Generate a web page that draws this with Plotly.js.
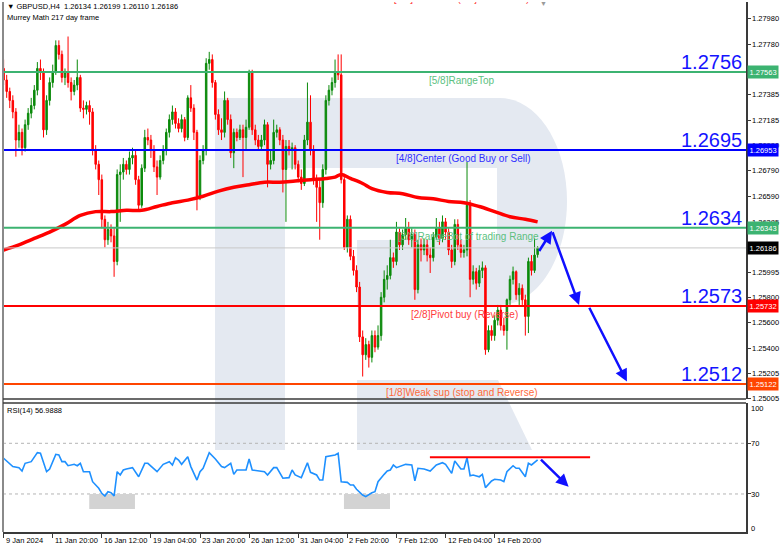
<!DOCTYPE html>
<html><head><meta charset="utf-8">
<script src="https://cdn.plot.ly/plotly-3.0.1.min.js"></script>
<style>html,body{margin:0;padding:0;background:#fff}#chart{width:782px;height:549px}</style>
</head><body><div id="chart"></div>
<script>
// ---------- DATA ----------
const barOpen = [
1.2759,1.2750,1.2741,1.2734,1.2725,1.2703,1.2709,1.2697,1.2715,1.2724,
1.2730,1.2742,1.2759,1.2756,1.2711,1.2734,1.2748,1.2756,1.2777,1.2770,
1.2752,1.2756,1.2748,1.2741,1.2746,1.2752,1.2728,1.2727,1.2730,1.2725,
1.2695,1.2684,1.2672,1.2641,1.2625,1.2633,1.2628,1.2608,1.2676,1.2678,
1.2684,1.2680,1.2689,1.2691,1.2672,1.2652,1.2681,1.2705,1.2703,1.2695,
1.2682,1.2674,1.2687,1.2695,1.2709,1.2719,1.2725,1.2716,1.2712,1.2719,
1.2705,1.2736,1.2728,1.2709,1.2659,1.2687,1.2695,1.2763,1.2766,1.2748,
1.2723,1.2711,1.2709,1.2734,1.2719,1.2693,1.2709,1.2705,1.2711,1.2705,
1.2713,1.2756,1.2711,1.2703,1.2698,1.2703,1.2715,1.2684,1.2687,1.2709,
1.2711,1.2703,1.2680,1.2698,1.2695,1.2697,1.2684,1.2674,1.2669,1.2703,
1.2717,1.2695,1.2672,1.2666,1.2654,1.2680,1.2734,1.2742,1.2748,1.2756,
1.2754,1.2672,1.2619,1.2641,1.2612,1.2601,1.2588,1.2549,1.2535,1.2543,
1.2533,1.2550,1.2541,1.2550,1.2580,1.2594,1.2597,1.2611,1.2608,1.2631,
1.2621,1.2629,1.2634,1.2625,1.2629,1.2586,1.2621,1.2617,1.2621,1.2613,
1.2611,1.2627,1.2634,1.2626,1.2639,1.2631,1.2617,1.2608,1.2637,1.2621,
1.2615,1.2617,1.2652,1.2594,1.2600,1.2591,1.2601,1.2603,1.2539,1.2554,
1.2550,1.2562,1.2570,1.2558,1.2554,1.2578,1.2594,1.2600,1.2582,1.2587,
1.2578,1.2565,1.2608,1.2601,1.26134];
const barHigh = [
1.2766,1.2754,1.2744,1.2738,1.2728,1.2715,1.2712,1.2719,1.2728,1.2736,
1.2746,1.2764,1.2766,1.2759,1.2738,1.2752,1.2762,1.2781,1.2781,1.2773,
1.2759,1.2784,1.2752,1.2750,1.2766,1.2754,1.2734,1.2733,1.2734,1.2728,
1.2699,1.2687,1.2676,1.2644,1.2639,1.2637,1.2634,1.2680,1.2684,1.2689,
1.2687,1.2694,1.2697,1.2695,1.2675,1.2684,1.2711,1.2712,1.2707,1.2699,
1.2687,1.2691,1.2699,1.2712,1.2723,1.2730,1.2728,1.2720,1.2723,1.2721,
1.2738,1.2746,1.2731,1.2711,1.2691,1.2699,1.2767,1.2772,1.2770,1.2750,
1.2727,1.2720,1.2741,1.2736,1.2723,1.2712,1.2712,1.2715,1.2715,1.2719,
1.2758,1.2758,1.2715,1.2707,1.2707,1.2719,1.2717,1.2695,1.2719,1.2715,
1.2713,1.2707,1.2703,1.2703,1.2701,1.2699,1.2687,1.2680,1.2707,1.2748,
1.2738,1.2699,1.2676,1.2672,1.2684,1.2738,1.2746,1.2752,1.2766,1.2770,
1.2770,1.2676,1.2644,1.2644,1.2617,1.2605,1.2592,1.2554,1.2548,1.2546,
1.2554,1.2554,1.2558,1.2584,1.2601,1.2605,1.2625,1.2615,1.2639,1.2634,
1.2633,1.2642,1.2639,1.2634,1.2633,1.2625,1.2626,1.2626,1.2625,1.2619,
1.2631,1.2642,1.2639,1.2644,1.2642,1.2634,1.2621,1.2641,1.2641,1.2625,
1.2621,1.2686,1.2656,1.2605,1.2603,1.2605,1.2608,1.2605,1.2558,1.2558,
1.2566,1.2574,1.2574,1.2564,1.2579,1.2597,1.2604,1.2601,1.2591,1.2590,
1.2582,1.2611,1.2613,1.2626,1.26199];
const barLow = [
1.2746,1.2736,1.2728,1.2720,1.2690,1.2697,1.2691,1.2694,1.2711,1.2720,
1.2727,1.2738,1.2750,1.2705,1.2707,1.2730,1.2744,1.2754,1.2766,1.2748,
1.2746,1.2744,1.2734,1.2738,1.2742,1.2725,1.2720,1.2723,1.2715,1.2691,
1.2680,1.2660,1.2634,1.2619,1.2621,1.2623,1.2596,1.2605,1.2639,1.2672,
1.2676,1.2676,1.2684,1.2668,1.2648,1.2650,1.2678,1.2699,1.2689,1.2678,
1.2660,1.2672,1.2684,1.2691,1.2705,1.2715,1.2712,1.2709,1.2709,1.2702,
1.2703,1.2725,1.2703,1.2648,1.2656,1.2684,1.2691,1.2758,1.2744,1.2719,
1.2707,1.2703,1.2705,1.2715,1.2689,1.2681,1.2702,1.2703,1.2674,1.2695,
1.2711,1.2707,1.2699,1.2695,1.2695,1.2699,1.2666,1.2680,1.2684,1.2705,
1.2699,1.2662,1.2639,1.2691,1.2680,1.2680,1.2670,1.2664,1.2667,1.2699,
1.2691,1.2668,1.2639,1.2625,1.2650,1.2676,1.2730,1.2738,1.2744,1.2750,
1.2669,1.2617,1.2615,1.2609,1.2597,1.2584,1.2545,1.2518,1.2531,1.2525,
1.2529,1.2537,1.2539,1.2546,1.2576,1.2586,1.2594,1.2603,1.2605,1.2617,
1.2617,1.2625,1.2621,1.2619,1.2578,1.2583,1.2608,1.2613,1.2608,1.2599,
1.2608,1.2625,1.2621,1.2623,1.2625,1.2613,1.2603,1.2605,1.2617,1.2611,
1.2611,1.2612,1.2580,1.2590,1.2586,1.2588,1.2595,1.2535,1.2537,1.2546,
1.2546,1.2558,1.2554,1.2550,1.2539,1.2574,1.2590,1.2578,1.2574,1.2574,
1.2550,1.2552,1.2597,1.2599,1.26110];
const barClose = [
1.2750,1.2741,1.2734,1.2725,1.2703,1.2709,1.2697,1.2715,1.2724,1.2730,
1.2742,1.2759,1.2756,1.2711,1.2734,1.2748,1.2756,1.2777,1.2770,1.2752,
1.2756,1.2748,1.2741,1.2746,1.2752,1.2728,1.2727,1.2730,1.2725,1.2695,
1.2684,1.2672,1.2641,1.2625,1.2633,1.2628,1.2608,1.2676,1.2678,1.2684,
1.2680,1.2689,1.2691,1.2672,1.2652,1.2681,1.2705,1.2703,1.2695,1.2682,
1.2674,1.2687,1.2695,1.2709,1.2719,1.2725,1.2716,1.2712,1.2719,1.2705,
1.2736,1.2728,1.2709,1.2659,1.2687,1.2695,1.2763,1.2766,1.2748,1.2723,
1.2711,1.2709,1.2734,1.2719,1.2693,1.2709,1.2705,1.2711,1.2705,1.2713,
1.2756,1.2711,1.2703,1.2698,1.2703,1.2715,1.2684,1.2687,1.2709,1.2711,
1.2703,1.2680,1.2698,1.2695,1.2697,1.2684,1.2674,1.2669,1.2703,1.2717,
1.2695,1.2672,1.2666,1.2654,1.2680,1.2734,1.2742,1.2748,1.2756,1.2754,
1.2672,1.2619,1.2641,1.2612,1.2601,1.2588,1.2549,1.2535,1.2543,1.2533,
1.2550,1.2541,1.2550,1.2580,1.2594,1.2597,1.2611,1.2608,1.2631,1.2621,
1.2629,1.2634,1.2625,1.2629,1.2586,1.2621,1.2617,1.2621,1.2613,1.2611,
1.2627,1.2634,1.2626,1.2639,1.2631,1.2617,1.2608,1.2637,1.2621,1.2615,
1.2617,1.2652,1.2594,1.2600,1.2591,1.2601,1.2603,1.2539,1.2554,1.2550,
1.2562,1.2570,1.2558,1.2554,1.2578,1.2594,1.2600,1.2582,1.2587,1.2578,
1.2565,1.2608,1.2601,1.2613,1.26186];

// moving average (read at sample bars)
const maBar = [0,5,10,15,20,25,30,35,40,45,50,55,60,65,70,75,80,85,90,95,100,105,108,110,113,117,120,125,130,135,140,145,150,155,160,165,170,174];
const maVal = [1.2617,1.2621,1.2626,1.2631,1.2637,1.2644,1.2647,1.2647,1.2648,1.2648,1.2651,1.2654,1.2656,1.2659,1.2663,1.2666,1.2668,1.2670,1.2670,1.2671,1.2672,1.2673,1.2674,1.2676,1.2673,1.2669,1.2665,1.2662,1.2661,1.2658,1.2657,1.2655,1.2654,1.2651,1.2647,1.2643,1.2641,1.2639];

// RSI(14)
const rsiBar = [0,3,5,6,7,9,11,12,14,15,17,18,19,20,21,23,24,25,26,28,29,31,32,33,34,35,36,37,38,39,40,42,44,46,47,50,52,54,55,56,57,58,60,61,63,64,65,67,69,71,72,74,75,76,79,80,81,83,85,86,88,89,91,93,94,95,97,99,100,102,103,104,105,108,109,110,112,113,114,115,117,118,120,121,122,124,125,126,127,128,129,130,131,133,134,135,137,139,141,143,144,146,147,149,150,151,152,153,155,156,157,159,160,162,163,164,166,167,168,170,171,172,174];
const rsiVal = [58.2,51.6,50.8,48.1,54.2,55.5,62.6,62.1,47.6,49.7,61.3,60.8,55.5,55.5,52.3,53.4,52.3,54.2,47.6,47.6,39.7,34.5,30.5,28.4,31.8,31,28.4,47.6,45,48.9,49.7,50.8,43.6,54.2,54.2,47.6,53.4,55.5,52.9,58.6,56.8,53.4,59.4,51.6,41,47.6,50.3,62.6,57.6,51.6,50.8,54.2,45.5,48.9,48.9,57.6,48.9,48.1,47.6,45,50.8,50.8,42.4,42.9,48.9,45,42.9,54.7,47.1,45,41,41,59.4,60.8,62.1,39.7,39.2,37.1,37.1,33.7,29.2,27.9,31,31.8,39.7,45.5,48.1,48.9,52.9,50.8,51.6,52.3,53.4,52.9,40.3,50.3,49.7,48.1,52.9,54.7,53.4,46.3,56,49.7,49.7,58.6,44.4,45,43.6,45.5,35,40.3,41.6,41,39.7,47.6,52.3,50.3,50.3,43.6,54.2,52.9,56.99];

// Murrey levels
const levelPrice = [1.27563, 1.26953, 1.26343, 1.25732, 1.25122];
const levelBig   = ['1.2756', '1.2695', '1.2634', '1.2573', '1.2512'];
const levelTag   = ['1.27563', '1.26953', '1.26343', '1.25732', '1.25122'];
const levelName  = ['[5/8]RangeTop', '[4/8]Center (Good Buy or Sell)', '[3/8]RangeBot of trading Range', '[2/8]Pivot buy (Reverse)', '[1/8]Weak sup (stop and Reverse)'];
const topLevelName = '[6/8]Pivot Sell (Major Reverse)';
const topLevelPrice = 1.28126;
const lastPrice = 1.26186;
const rsiLevels = [70, 30];
const rsiResist = 59;

const priceTicks = [1.27980,1.27780,1.27385,1.27185,1.26990,1.26790,1.26590,1.26385,1.25995,1.25800,1.25600,1.25400,1.25205,1.25005];
const rsiTicks = [100, 70, 30, 0];
const timeTickBar = [0,16,32,48,64,80,96,112,128,144,160];
const timeTickText = ['9 Jan 2024','11 Jan 20:00','16 Jan 12:00','19 Jan 04:00','23 Jan 20:00','26 Jan 12:00','31 Jan 04:00','2 Feb 20:00','7 Feb 12:00','12 Feb 04:00','14 Feb 20:00'];

// ---------- STYLE / LAYOUT ----------
const FONT = 'Liberation Sans, Arial, sans-serif';
const levelColor = ['#3cb371', '#0000ff', '#3cb371', '#ff0000', '#ff4500'];
const levelTextColor = ['#5cbf80', '#3030ff', '#5cbf80', '#ff3c3c', '#ff6a3a'];
const levelTextBar = [138.1, 127.1, 127.7, 132, 124.1];
const L = 3, R = 746, T = 2, B = 532;
const px = x => (x - L) / (R - L);
const py = y => (B - y) / (B - T);
const mainBottom = 399, rsiTop = 403;
const rsiLabelY = [409, 443.3, 494, 528];   // label centres, pixels

const bars = barClose.map((_, i) => i);

const traces = [
  {type: 'candlestick', x: bars, open: barOpen, high: barHigh, low: barLow, close: barClose,
   xaxis: 'x', yaxis: 'y', whiskerwidth: 0,
   increasing: {line: {color: '#0b8a0b', width: 1}, fillcolor: '#0b8a0b'},
   decreasing: {line: {color: '#ff0000', width: 1}, fillcolor: '#ff0000'},
   hoverinfo: 'skip', showlegend: false},
  {type: 'scatter', mode: 'lines', x: maBar, y: maVal, xaxis: 'x', yaxis: 'y',
   line: {color: '#ff0000', width: 3.5, shape: 'spline'}, hoverinfo: 'skip', showlegend: false},
  {type: 'scatter', mode: 'lines', x: rsiBar, y: rsiVal, xaxis: 'x', yaxis: 'y2',
   line: {color: '#1e90ff', width: 1.6}, hoverinfo: 'skip', showlegend: false},
  {type: 'scatter', mode: 'text', x: [127.1], y: [topLevelPrice], text: [topLevelName],
   textposition: 'middle right', cliponaxis: true, xaxis: 'x', yaxis: 'y',
   textfont: {family: FONT, size: 10, color: '#ff3c3c'}, hoverinfo: 'skip', showlegend: false}
];

const shapes = [];
// watermark "R"
const wm = '#e4e9f1';
shapes.push({type: 'rect', xref: 'paper', yref: 'paper', layer: 'below', x0: px(215), x1: px(285), y0: py(450), y1: py(98), fillcolor: wm, line: {width: 0}});
shapes.push({type: 'path', xref: 'paper', yref: 'paper', layer: 'below', fillcolor: wm, line: {width: 0},
  path: `M ${px(285)},${py(98)} L ${px(500)},${py(98)} C ${px(537)},${py(98)} ${px(567)},${py(144)} ${px(567)},${py(201)} C ${px(567)},${py(259)} ${px(537)},${py(305)} ${px(500)},${py(305)} L ${px(285)},${py(305)} Z`});
shapes.push({type: 'rect', xref: 'paper', yref: 'paper', layer: 'below', x0: px(285), x1: px(497), y0: py(240), y1: py(168), fillcolor: '#ffffff', line: {width: 0}});
shapes.push({type: 'rect', xref: 'paper', yref: 'paper', layer: 'below', x0: px(285), x1: px(357), y0: py(305), y1: py(240), fillcolor: '#ffffff', line: {width: 0}});
shapes.push({type: 'path', xref: 'paper', yref: 'paper', layer: 'below', fillcolor: wm, line: {width: 0},
  path: `M ${px(357)},${py(380)} L ${px(498)},${py(380)} L ${px(532)},${py(450)} L ${px(357)},${py(450)} Z`});

// RSI oversold boxes
shapes.push({type: 'rect', xref: 'x', yref: 'y2', layer: 'below', x0: 27.9, x1: 42.8, y0: 18.2, y1: 30, fillcolor: '#d3d3d3', line: {width: 0}});
shapes.push({type: 'rect', xref: 'x', yref: 'y2', layer: 'below', x0: 110.9, x1: 125.9, y0: 18.2, y1: 30, fillcolor: '#d3d3d3', line: {width: 0}});
// RSI levels
rsiLevels.forEach(v => shapes.push({type: 'line', xref: 'paper', yref: 'y2', layer: 'below', x0: 0, x1: 1, y0: v, y1: v, line: {color: '#b4b4b4', width: 1, dash: 'dot'}}));
shapes.push({type: 'line', xref: 'x', yref: 'y2', x0: 138.9, x1: 191.1, y0: rsiResist, y1: rsiResist, line: {color: '#ff0000', width: 2}});

// price levels
shapes.push({type: 'line', xref: 'paper', yref: 'y', x0: 0, x1: 1, y0: lastPrice, y1: lastPrice, line: {color: '#c8c8c8', width: 1}});
levelPrice.forEach((p, i) => shapes.push({type: 'line', xref: 'paper', yref: 'y', x0: 0, x1: 1, y0: p, y1: p, line: {color: levelColor[i], width: 2}}));

// frames
shapes.push({type: 'line', xref: 'paper', yref: 'paper', x0: 0, x1: 0, y0: 0, y1: 1, line: {color: '#8a8a8a', width: 2}});
shapes.push({type: 'line', xref: 'paper', yref: 'paper', x0: 0, x1: 1, y0: py(mainBottom), y1: py(mainBottom), line: {color: '#3a3a3a', width: 1.5}});
shapes.push({type: 'line', xref: 'paper', yref: 'paper', x0: 0, x1: 1, y0: py(rsiTop), y1: py(rsiTop), line: {color: '#3a3a3a', width: 1.5}});

const ann = [];
ann.push({xref: 'paper', yref: 'paper', x: px(5), y: py(7), xanchor: 'left', yanchor: 'middle', showarrow: false,
  text: '▼ GBPUSD,H4  1.26134 1.26199 1.26110 1.26186', font: {family: FONT, size: 7.5, color: '#000'}});
ann.push({xref: 'paper', yref: 'paper', x: px(5), y: py(18), xanchor: 'left', yanchor: 'middle', showarrow: false,
  text: 'Murrey Math 217 day frame', font: {family: FONT, size: 7.5, color: '#000'}});
ann.push({xref: 'paper', yref: 'paper', x: px(5), y: py(410), xanchor: 'left', yanchor: 'middle', showarrow: false,
  text: 'RSI(14) 56.9888', font: {family: FONT, size: 7.5, color: '#000'}});
ann.push({xref: 'paper', yref: 'paper', x: px(543), y: py(3), xanchor: 'center', yanchor: 'middle', showarrow: false,
  text: '▼', font: {family: FONT, size: 7, color: '#9a9a9a'}});
// RSI scale labels (kept inside the panel, as in the terminal)
rsiTicks.forEach((v, i) => ann.push({xref: 'paper', yref: 'paper', x: px(749), y: py(rsiLabelY[i]), xanchor: 'left', yanchor: 'middle',
  showarrow: false, text: String(v), font: {family: FONT, size: 7.5, color: '#000'}}));

// time labels (left-aligned at their tick, as in the terminal)
timeTickBar.forEach((b, i) => ann.push({xref: 'x', yref: 'paper', x: b, y: py(540), xanchor: 'left', yanchor: 'middle',
  xshift: 0, showarrow: false, text: timeTickText[i], font: {family: FONT, size: 7.5, color: '#000'}}));

levelPrice.forEach((p, i) => {
  ann.push({xref: 'paper', yref: 'y', x: px(744), y: p, xanchor: 'right', yanchor: 'bottom', yshift: -3, showarrow: false,
    text: levelBig[i], font: {family: FONT, size: 20, color: '#1414ff'}});
  ann.push({xref: 'x', yref: 'y', x: levelTextBar[i], y: p, xanchor: 'left', yanchor: 'top', yshift: -1, showarrow: false,
    text: levelName[i], font: {family: FONT, size: 10, color: levelTextColor[i]}});
  ann.push({xref: 'paper', yref: 'y', x: px(747), y: p, xanchor: 'left', yanchor: 'middle', showarrow: false,
    text: levelTag[i], bgcolor: levelColor[i], borderpad: 1.5, font: {family: FONT, size: 7.5, color: '#fff'}});
});
ann.push({xref: 'paper', yref: 'y', x: px(747), y: lastPrice, xanchor: 'left', yanchor: 'middle', showarrow: false,
  text: '1.26186', bgcolor: '#000', borderpad: 1.5, font: {family: FONT, size: 7.5, color: '#fff'}});

// forecast arrows
const arrowStyle = {showarrow: true, arrowhead: 2, arrowsize: 1, arrowwidth: 2.5, arrowcolor: '#1010ff', text: ''};
ann.push(Object.assign({xref: 'x', yref: 'y', axref: 'x', ayref: 'y', x: 178.7, y: 1.2632, ax: 174.2, ay: 1.2615}, arrowStyle));
ann.push(Object.assign({xref: 'x', yref: 'y', axref: 'x', ayref: 'y', x: 187.5, y: 1.2574, ax: 178.7, ay: 1.2632}, arrowStyle));
ann.push(Object.assign({xref: 'x', yref: 'y', axref: 'x', ayref: 'y', x: 203.1, y: 1.2514, ax: 190.6, ay: 1.2573}, arrowStyle));
ann.push(Object.assign({xref: 'x', yref: 'y2', axref: 'x', ayref: 'y2', x: 184.1, y: 35.8, ax: 174.6, ay: 58.2}, arrowStyle));

const layout = {
  width: 782, height: 549,
  margin: {l: L, r: 782 - R, t: T, b: 549 - B},
  paper_bgcolor: '#ffffff', plot_bgcolor: 'rgba(0,0,0,0)',
  showlegend: false, dragmode: false,
  font: {family: FONT, size: 7.5, color: '#000'},
  xaxis: {domain: [0, 1], anchor: 'y2', range: [-0.2, 241.9], rangeslider: {visible: false},
    showgrid: false, zeroline: false, showline: true, linecolor: '#3a3a3a', linewidth: 1.5,
    tickmode: 'array', tickvals: timeTickBar, showticklabels: false,
    ticks: 'outside', ticklen: 4, tickcolor: '#3a3a3a'},
  yaxis: {domain: [py(mainBottom), 1], anchor: 'x', side: 'right', range: [1.25004, 1.28110],
    showgrid: false, zeroline: false, showline: true, linecolor: '#3a3a3a', linewidth: 1.5,
    tickmode: 'array', tickvals: priceTicks, ticktext: priceTicks.map(v => v.toFixed(5)),
    ticks: 'outside', ticklen: 3, tickcolor: '#3a3a3a', tickfont: {family: FONT, size: 7.5, color: '#000'}},
  yaxis2: {domain: [0, py(rsiTop)], anchor: 'x', side: 'right', range: [0, 101.8],
    showgrid: false, zeroline: false, showline: true, linecolor: '#3a3a3a', linewidth: 1.5,
    tickmode: 'array', tickvals: [70, 30], showticklabels: false,
    ticks: 'outside', ticklen: 3, tickcolor: '#3a3a3a'},
  shapes: shapes,
  annotations: ann
};

Plotly.newPlot('chart', traces, layout, {staticPlot: true, displayModeBar: false});
</script>
</body></html>
